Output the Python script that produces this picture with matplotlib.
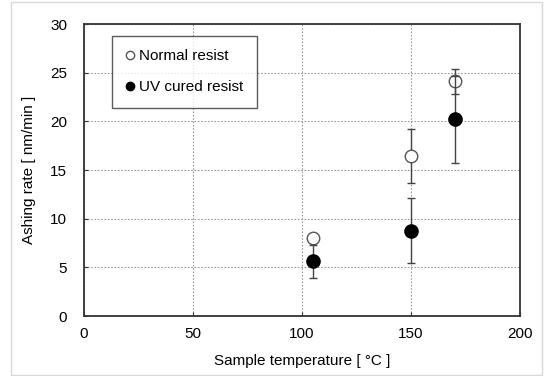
import matplotlib.pyplot as plt
from matplotlib.lines import Line2D
import numpy as np

plt.rcParams['font.family'] = ['Liberation Sans', 'DejaVu Sans']

# Datos
temp = [105, 150, 170]
normal_rate = [8.0, 16.4, 24.1]
normal_err_lo = [0.3, 2.7, 1.3]
normal_err_hi = [0.3, 2.8, 1.3]
uv_rate = [5.7, 8.7, 20.2]
uv_err_lo = [1.8, 3.3, 4.5]
uv_err_hi = [1.6, 3.4, 4.5]
series_names = ["Normal resist", "UV cured resist"]

fig = plt.figure(figsize=(5.5, 3.76), dpi=100)
ax = fig.add_axes([84/550, 1 - 316/376, 436/550, 292/376])

# Marco gris claro de la figura
fig.patches.append(plt.Rectangle((11/550, 0.002), 0.985 - 11/550, 0.992,
                                 transform=fig.transFigure, fill=False,
                                 edgecolor="#d8d8d8", lw=1))

ax.errorbar(temp, normal_rate,
            yerr=[normal_err_lo, normal_err_hi],
            fmt="o", mfc="white", mec="#555555", mew=1.0, ms=9,
            ecolor="#444444", elinewidth=1.0, capsize=3, capthick=1.0,
            zorder=3)
ax.errorbar(temp, uv_rate,
            yerr=[uv_err_lo, uv_err_hi],
            fmt="o", mfc="black", mec="black", ms=9.5,
            ecolor="#444444", elinewidth=1.0, capsize=3, capthick=1.0,
            zorder=4)

ax.set_xlim(0, 200)
ax.set_ylim(0, 30)
ax.set_xticks(np.arange(0, 201, 50))
ax.set_yticks(np.arange(0, 31, 5))
ax.grid(ls=(0, (1.5, 1.5)), color="#999999", lw=0.8)
ax.tick_params(direction="in", length=3, labelsize=11, color="#333333")
ax.tick_params(axis="y", pad=12)
ax.tick_params(axis="x", pad=8)
for s in ax.spines.values():
    s.set_color("#333333")
    s.set_linewidth(1.3)

ax.set_xlabel("Sample temperature [ \u00b0C ]", fontsize=11, labelpad=9)
ax.set_ylabel("Ashing rate [ nm/min ]", fontsize=11, labelpad=10)

handles = [Line2D([], [], ls="", marker="o", ms=6, mfc="white", mec="#555555"),
           Line2D([], [], ls="", marker="o", ms=6, mfc="black", mec="black")]
leg = ax.legend(handles, series_names, loc="upper left",
                bbox_to_anchor=(0.064, 0.96),
                fontsize=11, frameon=True, fancybox=False,
                edgecolor="#333333", labelspacing=1.1,
                handlelength=0.6, handletextpad=0.3, borderpad=0.9,
                borderaxespad=0)
leg.get_frame().set_linewidth(1.0)

plt.savefig("out.png", dpi=100)
